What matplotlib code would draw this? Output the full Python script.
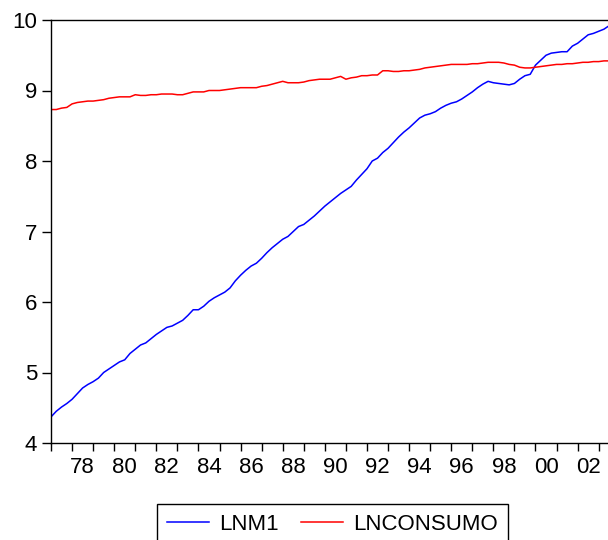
import numpy as np
import matplotlib
matplotlib.use("Agg")
import matplotlib.pyplot as plt

plt.rcParams["font.family"] = ["Liberation Sans", "DejaVu Sans"]

# quarterly observations, 1977Q1 .. 2003Q3
start_year = 1977
lnm1 = [
    4.37, 4.45, 4.51, 4.56,   # 1977
    4.62, 4.70, 4.78, 4.83,   # 1978
    4.87, 4.92, 5.00, 5.05,   # 1979
    5.10, 5.15, 5.18, 5.27,   # 1980
    5.33, 5.39, 5.42, 5.48,   # 1981
    5.54, 5.59, 5.64, 5.66,   # 1982
    5.70, 5.74, 5.81, 5.89,   # 1983
    5.89, 5.94, 6.01, 6.06,   # 1984
    6.10, 6.14, 6.20, 6.30,   # 1985
    6.38, 6.45, 6.51, 6.55,   # 1986
    6.62, 6.70, 6.77, 6.83,   # 1987
    6.89, 6.93, 7.00, 7.07,   # 1988
    7.10, 7.16, 7.22, 7.29,   # 1989
    7.36, 7.42, 7.48, 7.54,   # 1990
    7.59, 7.64, 7.73, 7.81,   # 1991
    7.89, 8.00, 8.04, 8.12,   # 1992
    8.18, 8.26, 8.34, 8.41,   # 1993
    8.47, 8.54, 8.61, 8.65,   # 1994
    8.67, 8.70, 8.75, 8.79,   # 1995
    8.82, 8.84, 8.88, 8.93,   # 1996
    8.98, 9.04, 9.09, 9.13,   # 1997
    9.11, 9.10, 9.09, 9.08,   # 1998
    9.10, 9.16, 9.21, 9.23,   # 1999
    9.36, 9.43, 9.50, 9.53,   # 2000
    9.54, 9.55, 9.55, 9.63,   # 2001
    9.67, 9.73, 9.79, 9.81,   # 2002
    9.84, 9.87, 9.92,         # 2003
]
lnconsumo = [
    8.73, 8.73, 8.75, 8.76,   # 1977
    8.81, 8.83, 8.84, 8.85,   # 1978
    8.85, 8.86, 8.87, 8.89,   # 1979
    8.90, 8.91, 8.91, 8.91,   # 1980
    8.94, 8.93, 8.93, 8.94,   # 1981
    8.94, 8.95, 8.95, 8.95,   # 1982
    8.94, 8.94, 8.96, 8.98,   # 1983
    8.98, 8.98, 9.00, 9.00,   # 1984
    9.00, 9.01, 9.02, 9.03,   # 1985
    9.04, 9.04, 9.04, 9.04,   # 1986
    9.06, 9.07, 9.09, 9.11,   # 1987
    9.13, 9.11, 9.11, 9.11,   # 1988
    9.12, 9.14, 9.15, 9.16,   # 1989
    9.16, 9.16, 9.18, 9.20,   # 1990
    9.16, 9.18, 9.19, 9.21,   # 1991
    9.21, 9.22, 9.22, 9.28,   # 1992
    9.28, 9.27, 9.27, 9.28,   # 1993
    9.28, 9.29, 9.30, 9.32,   # 1994
    9.33, 9.34, 9.35, 9.36,   # 1995
    9.37, 9.37, 9.37, 9.37,   # 1996
    9.38, 9.38, 9.39, 9.40,   # 1997
    9.40, 9.40, 9.39, 9.37,   # 1998
    9.36, 9.33, 9.32, 9.32,   # 1999
    9.33, 9.34, 9.35, 9.36,   # 2000
    9.37, 9.37, 9.38, 9.38,   # 2001
    9.39, 9.40, 9.40, 9.41,   # 2002
    9.41, 9.42, 9.42,         # 2003
]
year_labels = ["78", "80", "82", "84", "86", "88", "90", "92", "94", "96", "98", "00", "02"]

t = start_year + np.arange(len(lnm1)) / 4.0

fig = plt.figure(figsize=(6.08, 5.40), dpi=100)
ax = fig.add_axes([51 / 608, 1 - 443 / 540, 1 - 51 / 608, (443 - 20) / 540])

ax.plot(t, lnm1, color="#0000ff", lw=1.1, label="LNM1")
ax.plot(t, lnconsumo, color="#ff0000", lw=1.1, label="LNCONSUMO")

ax.set_xlim(1977.0, 1977 + 557 / 21.065)
ax.set_ylim(4, 10)
ax.set_yticks([4, 5, 6, 7, 8, 9, 10])

# year ticks, labels centred between them
ax.set_xticks(np.arange(1977, 2004), minor=True)
ax.set_xticks(np.arange(1978.5, 2003, 2))
ax.set_xticklabels(year_labels)
ax.tick_params(axis="x", which="minor", direction="out", length=6, width=1)
ax.tick_params(axis="x", which="major", length=0, pad=10, labelsize=16)
ax.tick_params(axis="y", direction="out", length=6.5, width=1, pad=3.5, labelsize=16)

ax.spines["right"].set_visible(False)
for s in ("left", "bottom", "top"):
    ax.spines[s].set_linewidth(1.0)

fig.legend(
    loc="upper left",
    bbox_to_anchor=(157 / 608, 1 - 504 / 540),
    ncol=2,
    fontsize=16,
    frameon=True,
    fancybox=False,
    edgecolor="black",
    framealpha=1,
    borderaxespad=0,
    borderpad=0.45,
    handlelength=1.9,
    handletextpad=0.45,
    columnspacing=1.0,
)

fig.savefig("out.png", dpi=100)
